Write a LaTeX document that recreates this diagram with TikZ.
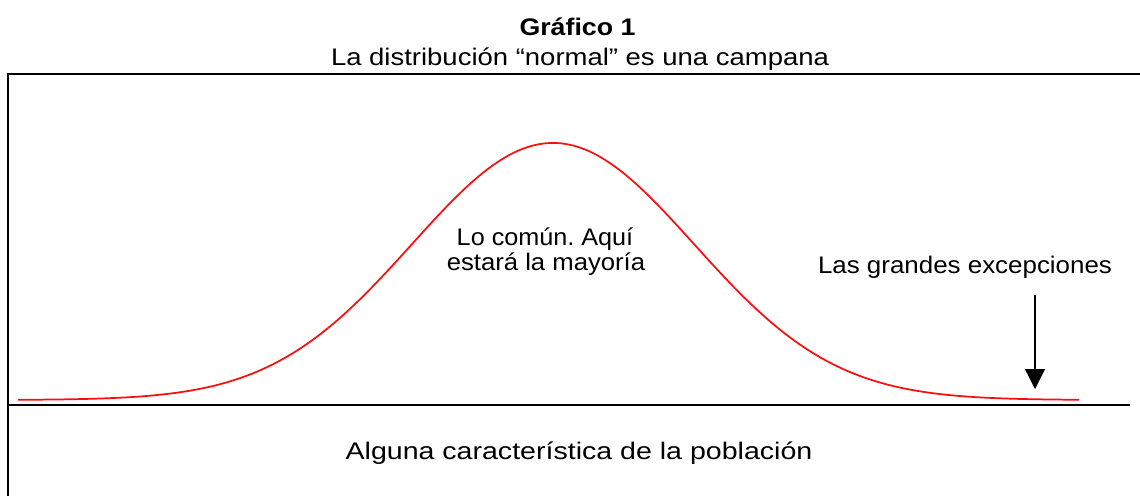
\documentclass[tikz,border=0pt]{standalone}
\usepackage{fontspec}
\usepackage{graphicx}
\setmainfont{Liberation Sans}
\usetikzlibrary{arrows.meta}
\newcommand\hstretch[2]{\scalebox{#1}[1]{#2}}
\begin{document}
\frenchspacing
\begin{tikzpicture}[x=0.75pt,y=-0.75pt,
  txt/.style={inner sep=0pt,anchor=base,font=\fontsize{18}{22}\selectfont},
  frame/.style={line width=1.6pt,black},
  bell/.style={line width=1.3pt,red!95!white},
  pointer/.style={line width=1pt,-{Triangle[width=15pt,length=15pt]}}]
\useasboundingbox (0,0) rectangle (1140,496);
\clip (0,0) rectangle (1140,496);
\fill[white] (0,0) rectangle (1140,496);
% titles
\node[txt,font=\fontsize{18}{22}\selectfont\bfseries] (title) at (577.5,36) {\hstretch{1.115}{Gráfico 1}};
\node[txt] (subtitle) at (580,65) {\hstretch{1.145}{La distribución “normal” es una campana}};
% frame
\draw[frame] (8,520) -- (8,74) -- (1160,74);
\draw[frame] (8,405) coordinate (axisL) -- (1130,405) coordinate (axisR);
% bell curve
\draw[bell] plot[domain=18:1079,samples=300] (\x,{400-257*exp(-0.5*((\x-553)/141)^2)});
% labels
\node[txt] (common1) at (545,245) {\hstretch{1.05}{Lo común. Aquí}};
\node[txt] (common2) at (546,270) {\hstretch{1.07}{estará la mayoría}};
\node[txt] (except) at (965,273) {\hstretch{1.08}{Las grandes excepciones}};
\coordinate (arrowtop) at (1035,295);
\coordinate (arrowtip) at (1035,389);
\draw[pointer] (arrowtop) -- (arrowtip);
\node[txt] (axislabel) at (579,459) {\hstretch{1.19}{Alguna característica de la población}};
\end{tikzpicture}
\end{document}
